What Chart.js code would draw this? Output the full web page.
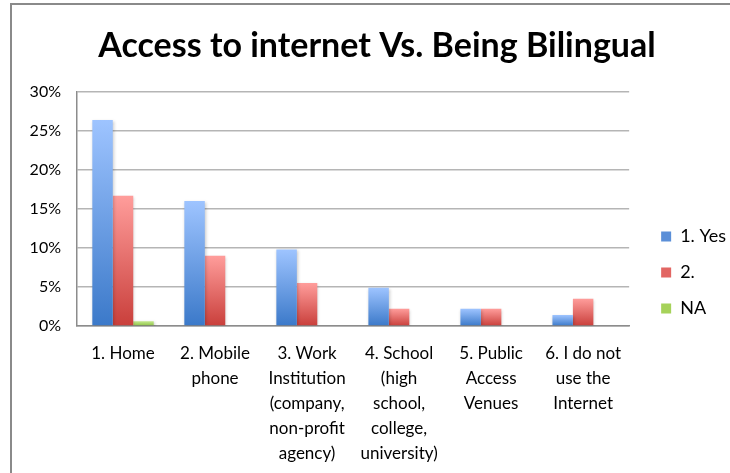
<!DOCTYPE html>
<html>
<head>
<meta charset="utf-8">
<script src="https://cdn.jsdelivr.net/npm/chart.js@4/dist/chart.umd.min.js"></script>
<style>
  html, body { margin: 0; padding: 0; background: #ffffff; }
  #wrap { width: 730px; height: 473px; position: relative; }
</style>
</head>
<body>
<div id="wrap"><canvas id="chart"></canvas></div>
<script>
// Access points, wrapped the way the axis shows them
const categories = [
  ["1. Home"],
  ["2. Mobile", "phone"],
  ["3. Work", "Institution", "(company,", "non-profit", "agency)"],
  ["4. School", "(high", "school,", "college,", "university)"],
  ["5. Public", "Access", "Venues"],
  ["6. I do not", "use the", "Internet"]
];
const seriesNames = ["1. Yes", "2.", "NA"];
const yesValues = [26.4, 16.0, 9.8, 4.9, 2.2, 1.4];
const twoValues = [16.7, 9.0, 5.5, 2.2, 2.2, 3.5];
const naValues  = [0.6, null, null, null, null, null];
const yTickValues = [0, 5, 10, 15, 20, 25, 30];

const FONT = "Lato, 'Open Sans', sans-serif";

// vertical gradient per bar: light at the top, deep at the base
function barGradient(topColor, baseColor) {
  return function (ctx) {
    const chart = ctx.chart;
    if (!chart.chartArea || ctx.type !== 'data' || ctx.raw == null) return baseColor;
    const y = chart.scales.y;
    const yTop = y.getPixelForValue(ctx.raw);
    const yBase = y.getPixelForValue(0);
    if (yBase - yTop < 1) return baseColor;
    const g = chart.ctx.createLinearGradient(0, yTop, 0, yBase);
    g.addColorStop(0, topColor);
    g.addColorStop(1, baseColor);
    return g;
  };
}

const legendColors = ["#5b8fd8", "#e26663", "#a6d25a"];

// thin frame along the top and left edges
const framePlugin = {
  id: 'frame',
  beforeDraw(chart) {
    const c = chart.ctx;
    c.save();
    c.strokeStyle = '#8a8a8a';
    c.lineWidth = 2;
    c.beginPath();
    c.moveTo(11, chart.height);
    c.lineTo(11, 4);
    c.lineTo(chart.width, 4);
    c.stroke();
    c.restore();
  }
};

// soft drop shadow behind the bars
const shadowPlugin = {
  id: 'barShadow',
  beforeDatasetsDraw(chart) {
    const c = chart.ctx;
    c.save();
    c.shadowColor = 'rgba(0,0,0,0.22)';
    c.shadowBlur = 3;
    c.shadowOffsetX = 1;
    c.shadowOffsetY = 1;
  },
  afterDatasetsDraw(chart) {
    chart.ctx.restore();
  }
};

// nudge the legend block beside the plot (lower down) and centre the title over the frame
const blockPlace = {
  id: 'blockPlace',
  afterLayout(chart) {
    const lg = chart.legend;
    if (lg) {
      lg.left += 14; lg.right += 14;
      lg.top += 36; lg.bottom += 36;
    }
    const tb = chart.titleBlock;
    if (tb) { tb.left += 10; tb.right += 10; }
  }
};

new Chart(document.getElementById('chart'), {
  type: 'bar',
  data: {
    labels: categories,
    datasets: [
      { label: seriesNames[0], data: yesValues, backgroundColor: barGradient('#9ec4ff', '#3b79c9') },
      { label: seriesNames[1], data: twoValues, backgroundColor: barGradient('#ff9d9b', '#c93f3b') },
      { label: seriesNames[2], data: naValues,  backgroundColor: barGradient('#c2e88a', '#8dc145') }
    ]
  },
  options: {
    responsive: true,
    maintainAspectRatio: false,
    animation: false,
    datasets: { bar: { categoryPercentage: 0.667, barPercentage: 1.0, borderWidth: 0 } },
    layout: { padding: { left: 12, right: 8, top: 0, bottom: 0 } },
    plugins: {
      title: {
        display: true,
        text: 'Access to internet Vs. Being Bilingual',
        color: '#000000',
        font: { family: FONT, size: 34, weight: 'bold' },
        padding: { top: 26, bottom: 25 }
      },
      legend: {
        position: 'right',
        labels: {
          color: '#000000',
          font: { family: FONT, size: 18 },
          boxWidth: 10,
          boxHeight: 10,
          padding: 18,
          generateLabels(chart) {
            return chart.data.datasets.map((ds, i) => ({
              text: ds.label,
              fillStyle: legendColors[i],
              strokeStyle: legendColors[i],
              lineWidth: 0,
              hidden: false,
              datasetIndex: i
            }));
          }
        }
      },
      tooltip: { enabled: false }
    },
    scales: {
      x: {
        grid: { display: false },
        border: { color: '#8c8c8c', width: 1.5 },
        ticks: {
          color: '#000000',
          font: { family: FONT, size: 17, lineHeight: 1.47 },
          padding: 7,
          maxRotation: 0,
          autoSkip: false
        },
        afterFit(scale) { scale.height = 147; }
      },
      y: {
        min: 0,
        max: 30,
        afterBuildTicks(scale) { scale.ticks = yTickValues.map(v => ({ value: v })); },
        grid: { color: '#b5b5b5', lineWidth: 1.5, drawTicks: false },
        border: { color: '#8c8c8c', width: 1.5 },
        ticks: {
          color: '#000000',
          font: { family: FONT, size: 16 },
          padding: 16,
          callback: v => v + '%'
        },
        afterFit(scale) { scale.width = 65; }
      }
    }
  },
  plugins: [framePlugin, shadowPlugin, blockPlace]
});
</script>
</body>
</html>
